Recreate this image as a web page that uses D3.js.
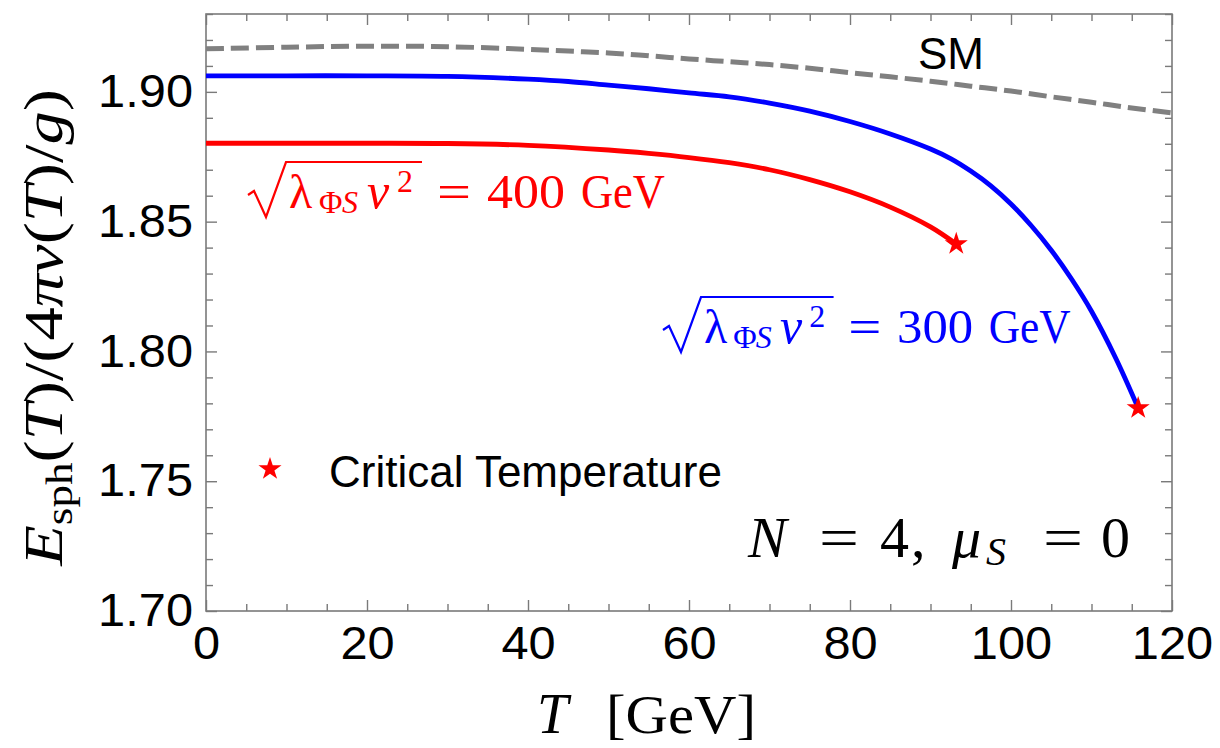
<!DOCTYPE html>
<html>
<head>
<meta charset="utf-8">
<script src="https://cdn.jsdelivr.net/npm/d3@7"></script>
<style>
  html, body { margin: 0; padding: 0; background: #fff; }
  svg { display: block; }
</style>
</head>
<body>
<svg id="chart" width="1220" height="748"></svg>
<script>
// ---- data ----
const T_SM  = [0, 10, 20, 30, 40, 45, 50, 55, 60, 65, 70, 75, 80, 85, 90, 95, 100, 105, 110, 115, 120];
const E_SM  = [1.9166, 1.9172, 1.9176, 1.9174, 1.9164, 1.9157, 1.9150, 1.9139, 1.9127, 1.9116, 1.9105,
               1.9091, 1.9074, 1.9058, 1.9041, 1.9022, 1.9003, 1.8981, 1.8960, 1.8938, 1.8919];

const T_300 = [0, 10, 20, 30, 40, 45, 50, 55, 60, 65, 70, 75, 80, 85, 90, 92.5, 95, 97.5, 100, 102.5, 105, 107.5, 110, 113, 115.8];
const E_300 = [1.9062, 1.9062, 1.9062, 1.9060, 1.9049, 1.9040, 1.9026, 1.9012, 1.8996, 1.8981, 1.8957,
               1.8926, 1.8886, 1.8838, 1.8780, 1.8743, 1.8695, 1.8638, 1.8568, 1.8485, 1.8390, 1.8280, 1.8155, 1.7975, 1.7782];

const T_400 = [0, 10, 20, 30, 40, 50, 55, 60, 65, 70, 75, 80, 85, 90, 93.2];
const E_400 = [1.8802, 1.8802, 1.8802, 1.8801, 1.8794, 1.8776, 1.8763, 1.8747, 1.8727, 1.8700, 1.8662,
               1.8615, 1.8556, 1.8480, 1.8414];

const X_MAJOR = [0, 20, 40, 60, 80, 100, 120];
const Y_MAJOR = [1.70, 1.75, 1.80, 1.85, 1.90];
const X_DOMAIN = [0, 120];
const Y_DOMAIN = [1.70, 1.93];

// ---- layout ----
const svg = d3.select("#chart");
const L = 206, R = 1172, TOP = 14, B = 611;
const x = d3.scaleLinear().domain(X_DOMAIN).range([L, R]);
const y = d3.scaleLinear().domain(Y_DOMAIN).range([B, TOP]);

const AX = "#7a7a7a";
const SANS = "'Liberation Sans', Arial, sans-serif";
const SERIF = "'Liberation Serif', 'Times New Roman', serif";

const xMinor = d3.range(0, 120.001, 5).filter(v => v % 20 !== 0);
const yMinor = d3.range(1.70, 1.9301, 0.01).map(v => +v.toFixed(2)).filter(v => Math.round(v * 100) % 5 !== 0);

function styleAxis(g) {
  g.select(".domain").remove();
  g.selectAll(".tick line").attr("stroke", AX).attr("stroke-width", 1.4);
  g.selectAll(".tick text").attr("fill", "#000").style("font-family", SANS).style("font-size", "46px")
    .each(function () {
      const w = this.getComputedTextLength();
      d3.select(this).attr("textLength", w * 1.06).attr("lengthAdjust", "spacingAndGlyphs");
    });
}

// bottom
svg.append("g").attr("transform", `translate(0,${B})`)
  .call(d3.axisBottom(x).tickValues(xMinor).tickSize(-7).tickFormat("")).call(styleAxis);
svg.append("g").attr("transform", `translate(0,${B})`)
  .call(d3.axisBottom(x).tickValues(X_MAJOR).tickSize(-11).tickPadding(15).tickFormat(d3.format("d"))).call(styleAxis);
// top
svg.append("g").attr("transform", `translate(0,${TOP})`)
  .call(d3.axisTop(x).tickValues(xMinor).tickSize(-7).tickFormat("")).call(styleAxis);
svg.append("g").attr("transform", `translate(0,${TOP})`)
  .call(d3.axisTop(x).tickValues(X_MAJOR).tickSize(-11).tickFormat("")).call(styleAxis);
// left
svg.append("g").attr("transform", `translate(${L},0)`)
  .call(d3.axisLeft(y).tickValues(yMinor).tickSize(-7).tickFormat("")).call(styleAxis);
svg.append("g").attr("transform", `translate(${L},0)`)
  .call(d3.axisLeft(y).tickValues(Y_MAJOR).tickSize(-11).tickPadding(13).tickFormat(d3.format(".2f"))).call(styleAxis);
// right
svg.append("g").attr("transform", `translate(${R},0)`)
  .call(d3.axisRight(y).tickValues(yMinor).tickSize(-7).tickFormat("")).call(styleAxis);
svg.append("g").attr("transform", `translate(${R},0)`)
  .call(d3.axisRight(y).tickValues(Y_MAJOR).tickSize(-11).tickFormat("")).call(styleAxis);

// frame
svg.append("rect").attr("x", L).attr("y", TOP).attr("width", R - L).attr("height", B - TOP)
  .attr("fill", "none").attr("stroke", AX).attr("stroke-width", 1.6);

// ---- curves ----
const line = d3.line().x(d => x(d[0])).y(d => y(d[1])).curve(d3.curveCatmullRom.alpha(0.5));
const zip = (a, b) => a.map((v, i) => [v, b[i]]);

svg.append("path").datum(zip(T_SM, E_SM)).attr("d", line)
  .attr("fill", "none").attr("stroke", "#808080").attr("stroke-width", 5)
  .attr("stroke-dasharray", "18,7");
svg.append("path").datum(zip(T_300, E_300)).attr("d", line)
  .attr("fill", "none").attr("stroke", "#0000ff").attr("stroke-width", 4.8);
svg.append("path").datum(zip(T_400, E_400)).attr("d", line)
  .attr("fill", "none").attr("stroke", "#ff0000").attr("stroke-width", 4.8);

// critical temperature stars (curve end points)
const star = d3.symbol(d3.symbolStar).size(165);
const crit = [[T_400.at(-1), E_400.at(-1)], [T_300.at(-1), E_300.at(-1)]];
svg.selectAll(".crit").data(crit).join("path")
  .attr("transform", d => `translate(${x(d[0])},${y(d[1])})`)
  .attr("d", star).attr("fill", "#ff0000");

// ---- texts ----
function piece(px, py, str, opts = {}) {
  const t = svg.append("text").attr("x", px).attr("y", py)
    .attr("fill", opts.fill || "#000")
    .style("font-family", opts.family || SERIF)
    .style("font-size", (opts.size || 46) + "px")
    .style("font-style", opts.italic ? "italic" : "normal")
    .text(str);
  if (opts.width) t.attr("textLength", opts.width).attr("lengthAdjust", "spacingAndGlyphs");
  return t;
}

// SM
piece(918, 69, "SM", { family: SANS, size: 44 });

// legend
svg.append("path").attr("transform", "translate(270,469)").attr("d", star).attr("fill", "#ff0000");
piece(329, 487, "Critical Temperature", { family: SANS, size: 44 });

// sqrt labels
function sqrtLabel(x0, base, color, num, s) {
  svg.append("path")
    .attr("d", `M${x0},${base - 13} L${x0 + 6},${base - 17} L${x0 + 18},${base + 9} L${x0 + 38},${base - 46} L${x0 + 38 + 136 * s},${base - 46}`)
    .attr("fill", "none").attr("stroke", color).attr("stroke-width", 2.2);
  const lx = x0 + 41;
  piece(lx, base, "λ", { fill: color, size: 48 });
  piece(lx + 30 * s, base + 5, "Φ", { fill: color, size: 32 });
  piece(lx + 53 * s, base + 5, "S", { fill: color, size: 32, italic: true });
  piece(lx + 78 * s, base, "v", { fill: color, size: 50, italic: true });
  piece(lx + 108 * s, base - 16, "2", { fill: color, size: 32 });
  piece(lx + 148 * s, base, "=", { fill: color, size: 48, width: 34 * s });
  piece(lx + 198 * s, base, num, { fill: color, size: 48, width: 78 * s });
  piece(lx + 292 * s, base, "GeV", { fill: color, size: 48, width: 84 * s });
}
sqrtLabel(248, 208, "#ff0000", "400", 1.0);
sqrtLabel(663, 343, "#0000ff", "300", 0.975);

// N = 4, mu_S = 0
piece(748, 557, "N", { size: 58, italic: true });
piece(819, 557, "=", { size: 56, width: 40 });
piece(880, 557, "4", { size: 58 });
piece(911, 557, ",", { size: 58 });
piece(952, 557, "μ", { size: 58, italic: true });
piece(986, 565, "S", { size: 40, italic: true });
piece(1043, 557, "=", { size: 56, width: 40 });
piece(1101, 557, "0", { size: 58 });

// x axis title
piece(537, 733, "T", { size: 56, italic: true });
piece(606, 733, "[GeV]", { size: 54, width: 150 });

// y axis title (rotated)
{
  const g = svg.append("g").attr("transform", "translate(62,567) rotate(-90)");
  const inner = g.append("g");
  const t = inner.append("text").attr("x", 0).attr("y", 0).attr("fill", "#000")
    .style("font-family", SERIF).style("font-size", "56px");
  t.append("tspan").style("font-style", "italic").text("E");
  t.append("tspan").attr("dy", 10).style("font-size", "38px").text("sph");
  t.append("tspan").attr("dy", -10).text("(");
  t.append("tspan").style("font-style", "italic").text("T");
  t.append("tspan").text(")/(4");
  t.append("tspan").style("font-style", "italic").text("πv");
  t.append("tspan").text("(");
  t.append("tspan").style("font-style", "italic").text("T");
  t.append("tspan").text(")/");
  t.append("tspan").style("font-style", "italic").text("g");
  t.append("tspan").text(")");
  const bb = t.node().getBBox();
  const target = 478;
  const sx = target / bb.width;
  inner.attr("transform", `translate(${-bb.x * sx},0) scale(${sx},1)`);
}
</script>
</body>
</html>
